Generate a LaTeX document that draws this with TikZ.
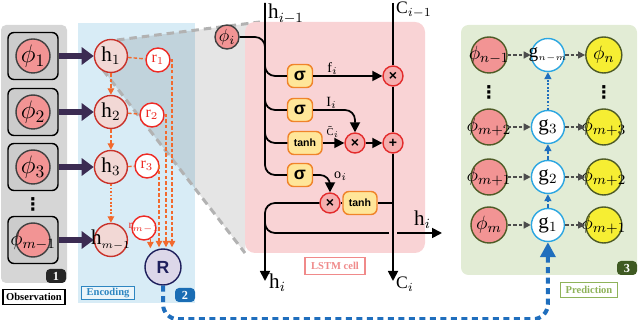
\documentclass[tikz,border=0pt]{standalone}
\usepackage{fontspec}
\setmainfont{Liberation Serif}
\newfontfamily\gatefont{Liberation Sans}
\newfontfamily\dotsfont{DejaVu Sans}
\usetikzlibrary{arrows.meta,positioning,calc}

\definecolor{obsgray}{HTML}{D6D6D6}
\definecolor{boxgray}{HTML}{CCCCCC}
\definecolor{phipink}{HTML}{F29494}
\definecolor{encblue}{HTML}{D8ECF6}
\definecolor{hfill}{HTML}{F2D8D5}
\definecolor{hred}{HTML}{C8322A}
\definecolor{rred}{HTML}{EE2A24}
\definecolor{encorange}{HTML}{F26A2E}
\definecolor{Rfill}{HTML}{DCD7E9}
\definecolor{Rnavy}{HTML}{1E1F5C}
\definecolor{linkblue}{HTML}{1F6EBD}
\definecolor{cellpink}{HTML}{F9D3D5}
\definecolor{gatefill}{HTML}{FFE699}
\definecolor{gateedge}{HTML}{F0842A}
\definecolor{opfill}{HTML}{F5AFAF}
\definecolor{opedge}{HTML}{E32B2B}
\definecolor{predgreen}{HTML}{E2ECD5}
\definecolor{prededge}{HTML}{4E5B26}
\definecolor{predyellow}{HTML}{F6EE33}
\definecolor{gblue}{HTML}{2BA6E1}
\definecolor{obsarrow}{HTML}{3B2B52}
\definecolor{enctext}{HTML}{2E86C1}
\definecolor{celltext}{HTML}{F08A8A}
\definecolor{predtext}{HTML}{8FB35A}
\definecolor{badgeblue}{HTML}{1A6DB4}
\definecolor{badgegreen}{HTML}{3F5A22}

\begin{document}
\begin{tikzpicture}[
    x=0.2mm, y=-0.2mm,
    every node/.style={font=\small},
    zerow/.style={execute at begin node={\hbox to 0pt\bgroup\hss}, execute at end node={\hss\egroup}},
    vdot/.style={inner sep=0pt, font=\dotsfont\bfseries\fontsize{10}{10}\selectfont},
    obsbox/.style={draw, thick, fill=boxgray, rounded corners=1.2mm, minimum width=10mm, minimum height=9.4mm},
    phinode/.style={circle, zerow, draw=black!75, thick, fill=phipink, inner sep=0pt, minimum size=6.8mm, font=\fontsize{14}{16}\selectfont},
    hnode/.style={circle, zerow, draw=hred, thick, fill=hfill, inner sep=0pt, minimum size=6.6mm, font=\fontsize{12}{14}\selectfont},
    rnode/.style={circle, zerow, draw=rred, thick, fill=white, text=rred, inner sep=0pt, minimum size=4.8mm, font=\fontsize{9}{10}\selectfont},
    Rnode/.style={circle, draw=Rnavy, thick, fill=Rfill, text=Rnavy, inner sep=0pt, minimum size=7.2mm, font=\gatefont\bfseries\fontsize{10}{12}\selectfont},
    gate/.style={draw=gateedge, thick, fill=gatefill, rounded corners=1.2mm, minimum width=5mm, minimum height=4.6mm, inner sep=0pt, font=\gatefont\bfseries\fontsize{10}{12}\selectfont},
    tanhgate/.style={gate, minimum width=6.8mm, font=\gatefont\bfseries\fontsize{6}{7}\selectfont},
    op/.style={circle, draw=opedge, thick, fill=opfill, inner sep=0pt, minimum size=4mm, font=\gatefont\bfseries\fontsize{8}{9}\selectfont},
    predin/.style={circle, zerow, draw=prededge, thick, fill=phipink, inner sep=0pt, minimum size=7.2mm, font=\fontsize{11}{13}\selectfont},
    predout/.style={predin, fill=predyellow},
    gnode/.style={circle, zerow, draw=gblue, thick, fill=white, inner sep=0pt, minimum size=6.6mm, font=\fontsize{12}{14}\selectfont},
    badge/.style={rounded corners=0.8mm, text=white, inner sep=0pt, minimum width=4mm, minimum height=2.8mm, font=\bfseries\fontsize{7}{8}\selectfont},
    tag/.style={draw, thick, inner sep=0pt, minimum height=3mm, font=\bfseries\fontsize{6}{7}\selectfont},
    lbl/.style={inner sep=0.5pt, font=\fontsize{8}{9}\selectfont},
    obsflow/.style={-{Triangle[length=2.4mm, width=3.4mm]}, obsarrow, line width=1.1mm},
    encflow/.style={-{Triangle[length=1.3mm, width=1.3mm]}, encorange, thick, dash pattern=on 2pt off 1.2pt},
    enclink/.style={encorange, thick, dash pattern=on 2pt off 1.2pt},
    wire/.style={line width=0.35mm},
    flowarr/.style={wire, -{Triangle[length=2mm, width=2mm]}},
    predflow/.style={-{Triangle[length=1.4mm, width=1.4mm]}, black!70, thick, dash pattern=on 2pt off 1.2pt},
    gflow/.style={-{Triangle[length=1.4mm, width=1.4mm]}, linkblue, thick, dash pattern=on 2pt off 1.2pt},
    bluelink/.style={-{Triangle[length=3mm, width=3mm]}, linkblue, line width=0.8mm, dash pattern=on 1.2mm off 0.9mm, rounded corners=3mm},
    wedgeedge/.style={gray!60, line width=0.6mm, dash pattern=on 1.5mm off 1mm}
]
\useasboundingbox (0,0) rectangle (640,320);

% panels
\fill[obsgray, rounded corners=1mm] (1,25) rectangle (67,283);
\fill[encblue] (78,23) rectangle (195,303);
\fill[predgreen, rounded corners=1.5mm] (461,25) rectangle (637,275);

% zoom wedge from h1 to the cell
\fill[black, fill opacity=0.1] (117,40) -- (260,22) -- (245,253) -- (103,70) -- cycle;
\draw[wedgeedge] (117,40) -- (260,22);
\draw[wedgeedge] (103,70) -- (245,253);
\fill[cellpink, rounded corners=2mm] (245,253) -- (245,22) -- (425,22) -- (425,253) -- cycle;

% observation
\node[obsbox] (ob1) at (33,56) {};
\node[phinode] (p1) at (ob1) {$\phi_1$};
\node[obsbox] (ob2) at (33,112) {};
\node[phinode] (p2) at (ob2) {$\phi_2$};
\node[obsbox] (ob3) at (33,167) {};
\node[phinode] (p3) at (ob3) {$\phi_3$};
\node[vdot] (odots) at (33,204) {⋮};
\node[obsbox] (ob4) at (33,240) {};
\node[phinode, font=\fontsize{12}{14}\selectfont] (p4) at (ob4) {$\phi_{m-1}$};

% encoding
\node[hnode, right=7mm of ob1] (h1) {h$_1$};
\node[hnode, right=7mm of ob2] (h2) {h$_2$};
\node[hnode, right=7mm of ob3] (h3) {h$_3$};
\node[hnode, right=7mm of ob4] (h4) {h$_{\scriptscriptstyle m-1}$};
\node[rnode] (r1) at (158,60) {r$_1$};
\node[rnode] (r2) at (152,115) {r$_2$};
\node[rnode] (r3) at (147,166) {r$_3$};
\node[rnode, font=\fontsize{6.5}{8}\selectfont] (r4) at (144,228) {r$_{m-1}$};
\node[Rnode] (R) at (163,267) {R};

\draw[obsflow] (ob1) -- (h1);
\draw[obsflow] (ob2) -- (h2);
\draw[obsflow] (ob3) -- (h3);
\draw[obsflow] (ob4) -- (h4);
\draw[encflow] (h1) -- (h2);
\draw[encflow] (h2) -- (h3);
\draw[encflow, dash pattern=on 1pt off 1pt] (h3) -- (h4);
\draw[enclink] (h1) -- (r1);
\draw[enclink] (h2) -- (r2);
\draw[enclink] (h3) -- (r3);
\draw[encflow] (r1.east) -| ($(R.north)+(9,-1)$);
\draw[encflow] (r2.east) -| ($(R.north)+(3,-1)$);
\draw[encflow] (r3.east) -| ($(R.north)+(-4,-1)$);
\draw[encflow] (r4.-60) -- (r4.-60 |- R.north);

% LSTM cell
\coordinate (htop) at (265,3);
\coordinate (ctop) at (393,3);
\coordinate (hbot) at (265,281);
\coordinate (cbot) at (393,281);
\coordinate (hright) at (442,233);
\node[phinode, minimum size=4.8mm, font=\fontsize{10}{12}\selectfont] (phii) at (227,37) {$\phi_i$};
\node[gate] (sg1) at (300,76) {σ};
\node[gate] (sg2) at (300,110) {σ};
\node[tanhgate] (th1) at (305,143) {tanh};
\node[gate] (sg3) at (300,175) {σ};
\node[tanhgate] (th2) at (360,203) {tanh};
\node[op] (mulf) at (393,76) {×};
\node[op] (muli) at (355,143) {×};
\node[op] (add) at (393,143) {+};
\node[op] (mulo) at (330,203) {×};

\draw[wire, rounded corners=2mm] (phii.east) -| (htop |- sg1.north);
\draw[wire, rounded corners=2mm] (htop) |- (sg3.west);
\draw[wire, rounded corners=2mm] (htop |- sg1.north) |- (sg1.west);
\draw[wire, rounded corners=2mm] (htop |- sg2.north) |- (sg2.west);
\draw[wire, rounded corners=2mm] (htop |- th1.north) |- (th1.west);
\draw[flowarr] (sg1) -- (mulf) node[lbl, pos=0.28, above] (lf) {f$_i$};
\draw[flowarr, rounded corners=2mm] (sg2) -| (muli) node[lbl, pos=0.22, above] (li) {I$_i$};
\draw[flowarr] (th1) -- (muli);
\node[lbl, anchor=south, font=\fontsize{6}{7}\selectfont] (lct) at (333,139) {$\tilde{\mathrm{C}}_i$};
\draw[flowarr] (muli) -- (add);
\draw[flowarr, rounded corners=2mm] (sg3) -| (mulo);
\node[lbl, anchor=west] (lo) at (333,176) {o$_i$};
\draw[wire] (add.south |- th2.east) -- (th2);
\draw[wire] (th2) -- (mulo);
\draw[flowarr, rounded corners=2mm] (mulo) -| (hbot);
\draw[flowarr, rounded corners=2mm] (hbot |- th2.south) |- (hright);
\draw[cellpink, line width=1.5mm] ($(add.south |- hright)+(0,-4)$) -- ($(add.south |- hright)+(0,4)$);
\draw[wire] (ctop) -- (mulf);
\draw[wire] (mulf) -- (add);
\draw[flowarr] (add) -- (cbot);
\node[lbl, anchor=west, font=\fontsize{12}{14}\selectfont] (lhprev) at (267,14) {h$_{i-1}$};
\node[lbl, anchor=west, font=\fontsize{10}{12}\selectfont] (lcprev) at (395,10) {C$_{i-1}$};
\node[lbl, anchor=west, font=\fontsize{12}{14}\selectfont] (lhi) at (268,283) {h$_i$};
\node[lbl, anchor=west, font=\fontsize{10}{12}\selectfont] (lci) at (395,284) {C$_i$};
\node[lbl, anchor=west, font=\fontsize{12}{14}\selectfont] (lhout) at (413,220) {h$_i$};

% prediction
\node[predin] (pn1) at (489,55) {$\phi_{n-1}$};
\node[vdot] (ldots) at (489,92) {⋮};
\node[predin] (pm2) at (489,127) {$\phi_{m+2}$};
\node[predin] (pm1) at (489,177) {$\phi_{m+1}$};
\node[predin] (pm) at (489,225) {$\phi_m$};
\node[gnode, right=4.6mm of pn1, font=\fontsize{11}{13}\selectfont] (gnm) {g$_{\scriptscriptstyle n-m}$};
\node[gnode, right=4.6mm of pm2] (g3) {g$_3$};
\node[gnode, right=4.6mm of pm1] (g2) {g$_2$};
\node[gnode, right=4.6mm of pm] (g1) {g$_1$};
\node[predout, right=4mm of gnm] (qn) {$\phi_n$};
\node[vdot] (rdots) at (qn |- ldots) {⋮};
\node[predout, right=4mm of g3] (q3) {$\phi_{m+3}$};
\node[predout, right=4mm of g2] (q2) {$\phi_{m+2}$};
\node[predout, right=4mm of g1] (q1) {$\phi_{m+1}$};

\draw[predflow] (pn1) -- (gnm);
\draw[predflow] (gnm) -- (qn);
\draw[predflow] (pm2) -- (g3);
\draw[predflow] (g3) -- (q3);
\draw[predflow] (pm1) -- (g2);
\draw[predflow] (g2) -- (q2);
\draw[predflow] (pm) -- (g1);
\draw[predflow] (g1) -- (q1);
\draw[gflow] (g1) -- (g2);
\draw[gflow] (g2) -- (g3);
\draw[gflow, dash pattern=on 1pt off 1pt] (g3) -- (gnm);
\draw[bluelink] (R.south) |- ($(g1.south)+(0,77)$) -- (g1.south);

% tags and badges
\node[tag, fill=white, minimum width=12.4mm] (tobs) at (34,297) {Observation};
\node[tag, draw=enctext, text=enctext, fill=encblue!50!white, minimum width=10.6mm, minimum height=2.6mm] (tenc) at (108,293) {Encoding};
\node[tag, draw=celltext, text=celltext, fill=white, minimum width=12mm, minimum height=3.4mm] (tcell) at (335,266) {LSTM cell};
\node[tag, draw=predtext, text=predtext, fill=white, minimum width=11.4mm] (tpred) at (589,290) {Prediction};
\node[badge, fill=black!85] (b1) at (56,276) {1};
\node[badge, fill=badgeblue] (b2) at (185,295) {2};
\node[badge, fill=badgegreen] (b3) at (627,268) {3};
\end{tikzpicture}
\end{document}
